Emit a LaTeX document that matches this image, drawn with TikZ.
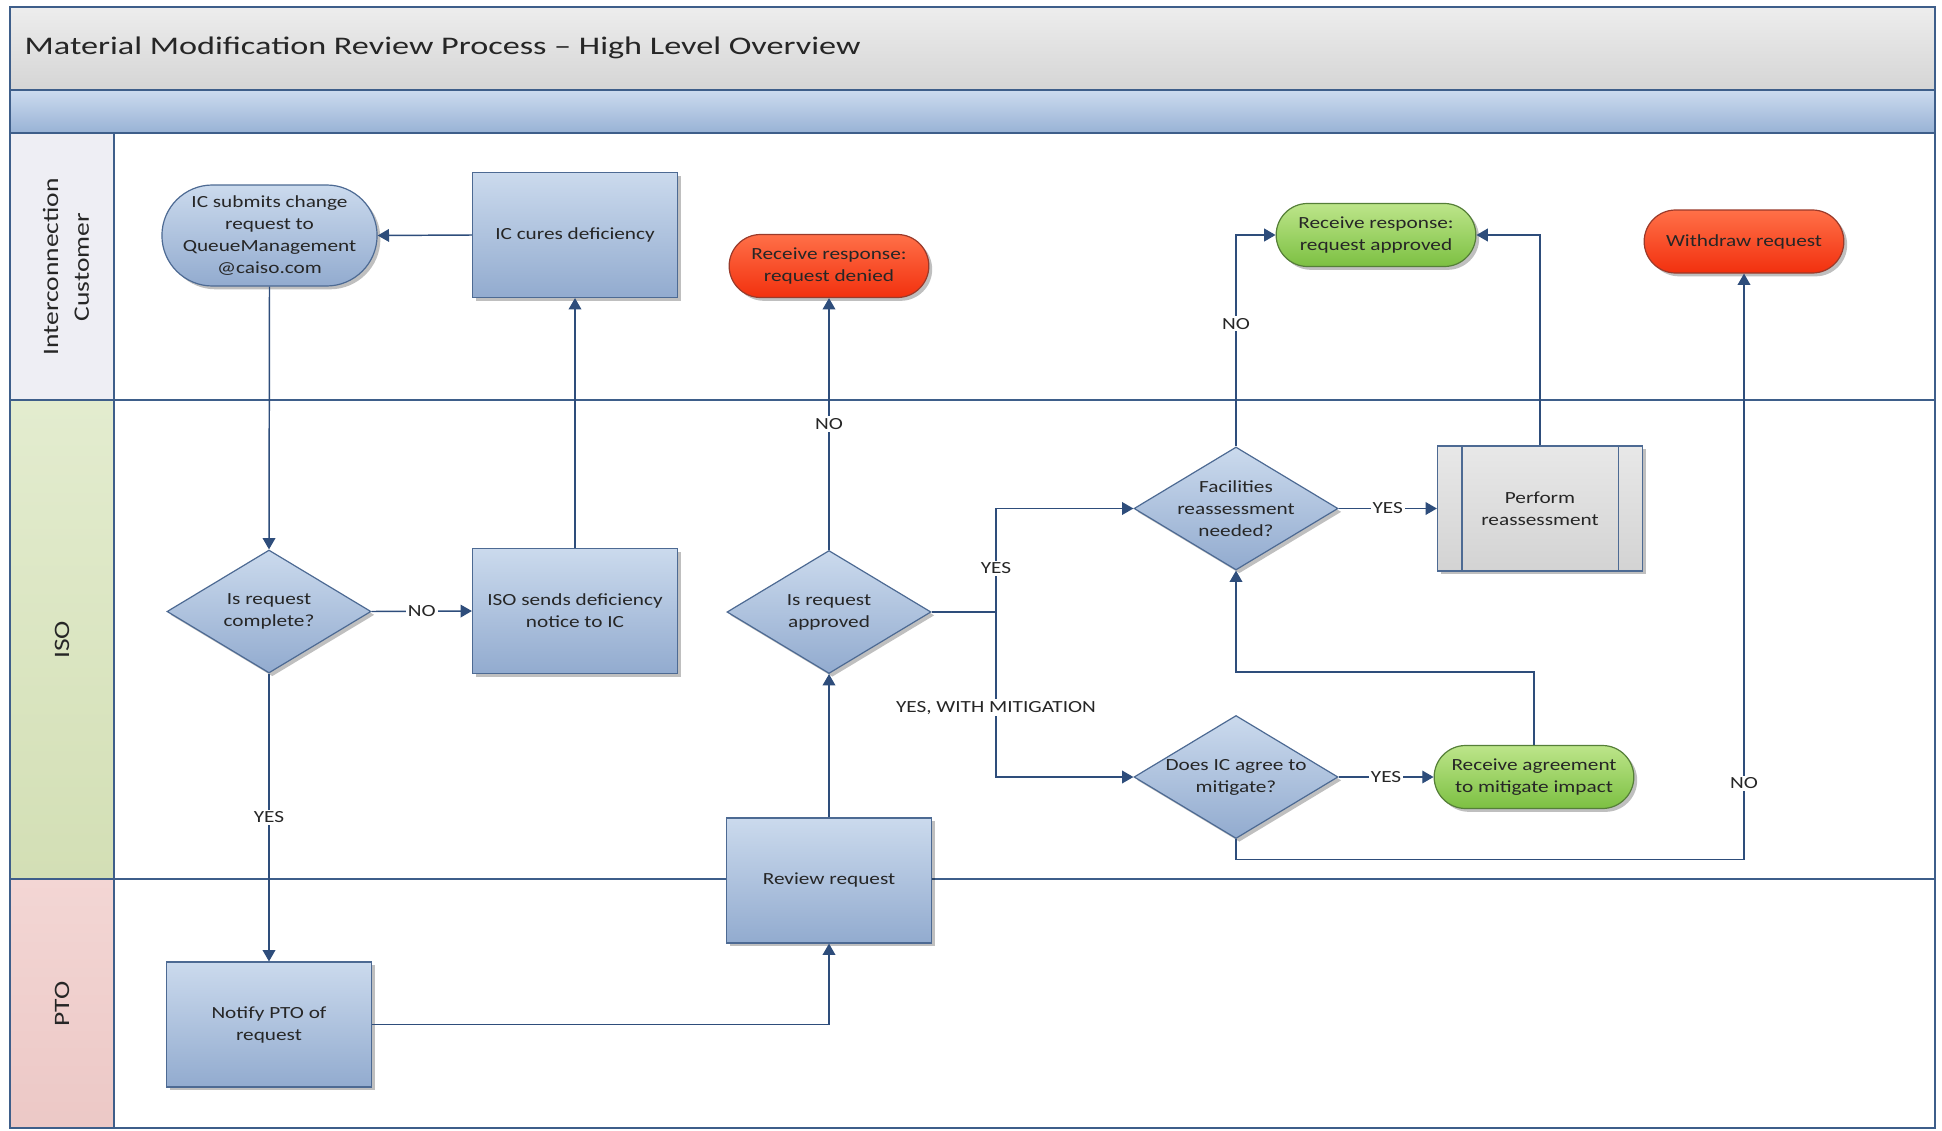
\documentclass[tikz,border=0pt]{standalone}
\usepackage{fontspec}
\setmainfont{Carlito}[FakeStretch=1.25]
\newfontfamily\mmtitlefamily{Carlito}[FakeStretch=1.35]
\usetikzlibrary{shapes.geometric,shapes.misc,arrows.meta,shadows,calc}
\definecolor{lineblue}{HTML}{2E4D7B}
\definecolor{frameblue}{HTML}{3E5E8A}
\definecolor{boxtop}{HTML}{CBDAED}
\definecolor{boxbot}{HTML}{92ABCF}
\definecolor{boxborder}{HTML}{4D6A93}
\definecolor{redtop}{HTML}{FF7048}
\definecolor{redbot}{HTML}{F2300E}
\definecolor{redborder}{HTML}{9A3A2A}
\definecolor{greentop}{HTML}{BDE58A}
\definecolor{greenbot}{HTML}{7CC042}
\definecolor{greenborder}{HTML}{557F38}
\definecolor{graytop}{HTML}{E8E8E8}
\definecolor{graybot}{HTML}{D3D3D3}
\definecolor{titletop}{HTML}{EDEDED}
\definecolor{titlebot}{HTML}{D5D5D5}
\definecolor{bandtop}{HTML}{CCDBEF}
\definecolor{bandbot}{HTML}{98B2D5}
\definecolor{icfill}{HTML}{EEEEF4}
\definecolor{isotop}{HTML}{E3ECCF}
\definecolor{isobot}{HTML}{D3DFB5}
\definecolor{ptotop}{HTML}{F3D6D4}
\definecolor{ptobot}{HTML}{ECC8C6}
\newcommand\mmnodefont{\fontsize{12.75pt}{16.5pt}\selectfont}
\newcommand\mmlanefont{\fontsize{16.5pt}{23pt}\selectfont}
\newcommand\mmtitlefont{\mmtitlefamily\fontsize{19pt}{23pt}\selectfont}
\begin{document}
\begin{tikzpicture}[x=0.75pt,y=-0.75pt,
  every node/.style={text=black!85},
  shad/.style={drop shadow={shadow xshift=2.5pt,shadow yshift=-2.5pt,fill=black,opacity=0.25}},
  proc/.style={rectangle,draw=boxborder,line width=0.9pt,top color=boxtop,bottom color=boxbot,
    minimum width=153.75pt,minimum height=93.75pt,align=center,font=\mmnodefont,inner sep=2pt,shad},
  decision/.style={diamond,draw=boxborder,line width=0.9pt,top color=boxtop,bottom color=boxbot,
    minimum width=153pt,minimum height=92.25pt,inner sep=0pt,aspect=1.66,shad},
  dtext/.style={align=center,font=\mmnodefont},
  term/.style={rounded rectangle,line width=0.9pt,minimum width=153.75pt,minimum height=47.25pt,
    align=center,font=\mmnodefont,inner sep=2pt,shad},
  redterm/.style={term,draw=redborder,top color=redtop,bottom color=redbot},
  greenterm/.style={term,draw=greenborder,top color=greentop,bottom color=greenbot},
  blueterm/.style={rounded rectangle,draw=boxborder,line width=0.9pt,top color=boxtop,bottom color=boxbot,
    minimum width=155.25pt,minimum height=75.75pt,align=center,font=\mmnodefont,inner sep=1pt,shad},
  subproc/.style={rectangle,draw=boxborder,line width=0.9pt,top color=graytop,bottom color=graybot,
    minimum width=153.75pt,minimum height=93.75pt,align=center,font=\mmnodefont,shad},
  conn/.style={draw=lineblue,line width=1.1pt,-{Triangle[length=8.5pt,width=9.5pt]}},
  lbl/.style={fill=white,inner sep=1.5pt,font=\mmnodefont},
  laneline/.style={draw=frameblue,line width=1.4pt},
]
\useasboundingbox (0,0) rectangle (1942,1131);
% background bands
\fill[top color=titletop,bottom color=titlebot] (10,7) rectangle (1935,90);
\fill[top color=bandtop,bottom color=bandbot] (10,90) rectangle (1935,133);
\fill[white] (114,133) rectangle (1935,1128);
\fill[icfill] (10,133) rectangle (114,400);
\fill[top color=isotop,bottom color=isobot] (10,400) rectangle (114,879);
\fill[top color=ptotop,bottom color=ptobot] (10,879) rectangle (114,1128);
\draw[laneline] (10,90) -- (1935,90);
\draw[laneline] (10,133) -- (1935,133);
\draw[laneline] (10,400) -- (1935,400);
\draw[laneline] (10,879) -- (1935,879);
\draw[laneline] (114,133) -- (114,1128);
\draw[laneline] (10,7) rectangle (1935,1128);
% title and lane labels
\node[anchor=west,font=\mmtitlefont] (title) at (20,48) {Material Modification Review Process – High Level Overview};
\node[rotate=90,align=center,font=\mmlanefont] (laneIC) at (66,267) {Interconnection\\Customer};
\node[rotate=90,font=\mmlanefont] (laneISO) at (62,640) {ISO};
\node[rotate=90,font=\mmlanefont] (lanePTO) at (62,1004) {PTO};
% nodes
\node[blueterm] (submit) at (269.5,235.5) {IC submits change\\request to\\QueueManagement\\@caiso.com};
\node[proc] (cures) at (575,235) {IC cures deficiency};
\node[redterm] (denied) at (829,266) {Receive response:\\request denied};
\node[greenterm] (approved) at (1376,235) {Receive response:\\request approved};
\node[redterm] (withdraw) at (1744,241.5) {Withdraw request};
\node[decision,label={[dtext]center:Is request\\complete?}] (complete) at (269,611.5) {};
\node[proc] (sends) at (575,611) {ISO sends deficiency\\notice to IC};
\node[decision,label={[dtext]center:Is request\\approved}] (isappr) at (829,612) {};
\node[decision,label={[dtext]center:Facilities\\reassessment\\needed?}] (facil) at (1236,508.5) {};
\node[subproc] (perform) at (1540,508.5) {Perform\\reassessment};
\draw[draw=boxborder,line width=0.9pt] ($(perform.north west)+(25,0)$) -- ($(perform.south west)+(25,0)$);
\draw[draw=boxborder,line width=0.9pt] ($(perform.north east)+(-25,0)$) -- ($(perform.south east)+(-25,0)$);
\node[decision,label={[dtext]center:Does IC agree to\\mitigate?}] (agree) at (1236,777) {};
\node[greenterm] (agreement) at (1534,777) {Receive agreement\\to mitigate impact};
\node[proc] (review) at (829,880.5) {Review request};
\node[proc] (notify) at (269,1024.5) {Notify PTO of\\request};
% connectors
\coordinate (split) at (996,612);
\draw[conn] (submit.south) -- (complete.north);
\draw[conn] (complete.east) -- node[lbl] {NO} (sends.west);
\draw[conn] (sends.north) -- (cures.south);
\draw[conn] (cures.west) -- (submit.east);
\draw[conn] (complete.south) -- node[lbl] {YES} (notify.north);
\draw[conn] (notify.east) -| (review.south);
\draw[conn] (review.north) -- (isappr.south);
\draw[conn] (isappr.north) -- node[lbl] {NO} (denied.south);
\draw[draw=lineblue,line width=1.1pt] (isappr.east) -- (split);
\draw[conn] (split) |- node[lbl,pos=0.21] {YES} (facil.west);
\draw[conn] (split) |- node[lbl,pos=0.29] {YES, WITH MITIGATION} (agree.west);
\draw[conn] (facil.east) -- node[lbl] {YES} (perform.west);
\draw[conn] (facil.north) |- node[lbl,pos=0.29] {NO} (approved.west);
\draw[conn] (perform.north) |- (approved.east);
\draw[conn] (agree.east) -- node[lbl] {YES} (agreement.west);
\draw[conn] (agreement.north) -- ++(0,-73) -| (facil.south);
\draw[conn] (agree.south) -- ++(0,20.5) -| node[lbl,pos=0.565] {NO} (withdraw.south);
\end{tikzpicture}
\end{document}
